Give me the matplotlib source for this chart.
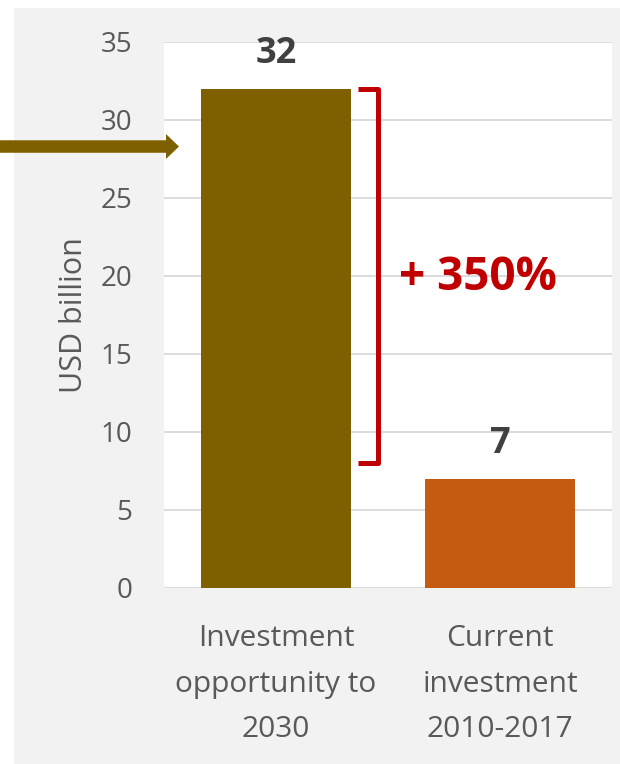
import matplotlib
matplotlib.use("Agg")
import matplotlib.pyplot as plt
from matplotlib.patches import Rectangle

categories = ["Investment\nopportunity to\n2030", "Current\ninvestment\n2010-2017"]
values = [32, 7]
bar_colors = ["#7f6000", "#c55a11"]
yticks = [0, 5, 10, 15, 20, 25, 30, 35]
growth_label = "+ 350%"
bracket_range = (8, 32)
arrow_level = 28.3

plt.rcParams['font.family'] = ['Open Sans', 'DejaVu Sans']

fig = plt.figure(figsize=(6.2, 7.64), dpi=100)
fig.patch.set_facecolor("white")
bg = Rectangle((14/620, 0), 1 - 14/620, (764-8)/764,
               transform=fig.transFigure, facecolor="#f2f2f2",
               edgecolor="none", zorder=-10)
fig.patches.append(bg)

ax = fig.add_axes([164/620, 176/764, 448/620, 546/764])
ax.set_facecolor("white")
x = list(range(len(categories)))
ax.bar(x, values, width=0.67, color=bar_colors, zorder=3)
ax.set_xlim(-0.5, 1.5)
ax.set_ylim(0, 35)
ax.set_yticks(yticks)
ax.grid(axis="y", color="#d9d9d9", linewidth=1.3, zorder=1)
ax.set_axisbelow(True)
for s in ax.spines.values():
    s.set_visible(False)
ax.tick_params(axis="both", length=0, colors="#595959")
ax.tick_params(axis="y", labelsize=20, pad=23)
ax.set_xticks(x)
ax.set_xticklabels(categories, fontsize=21.5, color="#595959", linespacing=1.75)
ax.tick_params(axis="x", pad=26)
ax.set_ylabel("USD billion", fontsize=22, color="#595959", labelpad=8)

for xi, v in zip(x, values):
    ax.annotate(str(v), (xi, v), xytext=(0, 12), textcoords="offset points",
                ha="center", va="bottom", fontsize=26, fontweight="bold",
                color="#404040")

# bracket
bx = 0.455
ax.plot([0.366, bx, bx, 0.366], [bracket_range[1], bracket_range[1], bracket_range[0], bracket_range[0]],
        color="#c00000", linewidth=3.6, solid_joinstyle="round", solid_capstyle="butt",
        zorder=4, clip_on=False)
ax.text(0.90, 19.9, growth_label, ha="center", va="center", fontsize=33,
        fontweight="bold", color="#c00000")

# arrow from the left edge
ax.annotate("", xy=(-0.433, arrow_level), xycoords="data",
            xytext=(-1.5, arrow_level), textcoords="data",
            arrowprops=dict(arrowstyle="simple,head_length=0.94,head_width=1.8,tail_width=0.9",
                            color="#7f6000", lw=0, shrinkA=0, shrinkB=0),
            annotation_clip=False, zorder=5)

fig.savefig("out.png", dpi=100)
